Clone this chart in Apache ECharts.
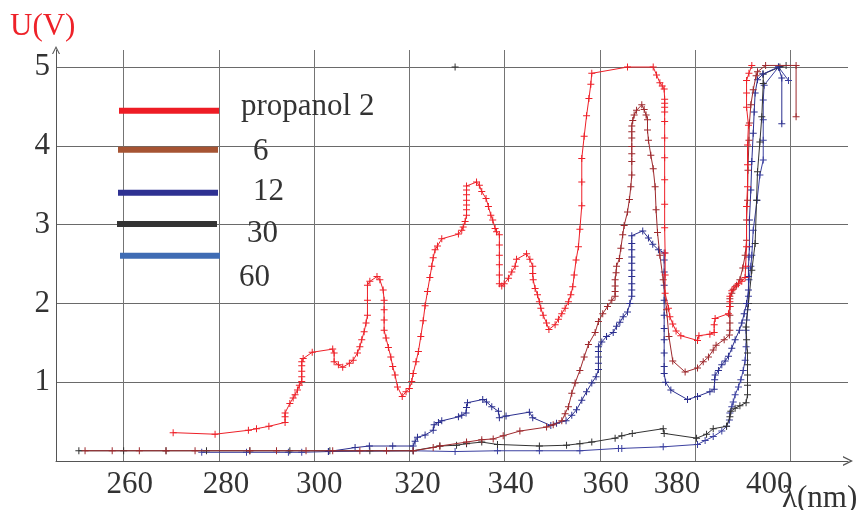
<!DOCTYPE html>
<html><head><meta charset="utf-8">
<script src="https://cdn.jsdelivr.net/npm/echarts@6/dist/echarts.min.js"></script>
<style>html,body{margin:0;padding:0;background:#fff}#c{width:866px;height:510px}</style>
</head><body><div id="c"></div>
<script>
const seriesNames = ['propanol 2', '6', '12', '30', '60'];

const propanol2 = [[270.4,0.36],[279.2,0.34],[286.2,0.39],[287.9,0.41],[290.5,0.44],[293.9,0.49],[293.9,0.56],[293.9,0.61],[294.9,0.73],[295.6,0.80],[296.0,0.84],[296.5,0.90],[296.9,0.96],[297.4,1.01],[297.4,1.07],[297.4,1.14],[297.4,1.21],[297.4,1.26],[297.7,1.30],[299.6,1.38],[303.9,1.42],[304.2,1.37],[304.2,1.26],[305.1,1.22],[306.0,1.19],[307.4,1.24],[308.2,1.28],[309.1,1.37],[309.6,1.45],[310.0,1.54],[310.5,1.64],[310.9,1.75],[311.2,1.85],[311.2,2.04],[311.2,2.23],[311.7,2.28],[313.2,2.34],[313.8,2.30],[314.5,2.17],[314.7,2.04],[314.7,1.92],[314.7,1.79],[314.7,1.66],[315.1,1.56],[315.6,1.44],[316.1,1.32],[316.5,1.20],[317.0,1.09],[317.5,0.94],[318.5,0.82],[319.3,0.88],[320.0,0.92],[320.5,1.01],[320.8,1.11],[321.4,1.26],[321.9,1.39],[322.4,1.58],[322.9,1.78],[323.3,1.97],[323.8,2.15],[324.3,2.33],[324.7,2.47],[325.0,2.58],[325.4,2.68],[325.9,2.73],[326.8,2.82],[330.3,2.88],[331.0,2.93],[331.3,2.97],[331.7,3.04],[332.0,3.12],[332.0,3.19],[332.0,3.25],[332.0,3.31],[332.0,3.38],[332.0,3.44],[332.0,3.49],[334.1,3.54],[334.7,3.50],[335.2,3.42],[336.1,3.33],[336.6,3.23],[337.1,3.12],[337.5,3.06],[338.0,2.95],[338.3,2.91],[338.9,2.87],[338.9,2.74],[338.9,2.61],[338.9,2.49],[338.9,2.36],[338.9,2.25],[339.4,2.22],[339.9,2.25],[340.8,2.32],[341.5,2.40],[342.2,2.47],[342.5,2.56],[344.6,2.63],[345.3,2.56],[345.9,2.47],[345.9,2.38],[346.0,2.30],[346.4,2.19],[346.9,2.11],[347.3,2.02],[347.6,1.94],[348.1,1.85],[348.8,1.75],[349.3,1.67],[350.6,1.73],[351.3,1.80],[352.0,1.87],[352.7,1.94],[353.4,2.02],[353.9,2.11],[354.3,2.21],[354.6,2.36],[355.0,2.55],[355.5,2.72],[355.8,2.94],[356.2,3.24],[356.2,3.54],[356.2,3.84],[356.7,4.12],[357.2,4.38],[357.7,4.60],[358.1,4.78],[358.3,4.92],[365.8,5.00],[371.2,5.00],[371.9,4.90],[372.6,4.80],[373.1,4.76],[373.5,4.72],[373.6,4.59],[373.6,4.54],[373.6,4.49],[373.6,4.43],[373.6,4.31],[373.6,4.10],[373.6,3.85],[373.6,3.57],[373.6,3.26],[373.6,2.96],[373.7,2.64],[373.7,2.36],[373.7,2.13],[374.4,1.94],[374.7,1.83],[375.3,1.74],[376.0,1.65],[377.0,1.59],[380.5,1.53],[380.8,1.59],[383.1,1.61],[384.0,1.63],[384.0,1.73],[384.2,1.81],[387.0,1.87],[387.3,1.96],[387.3,2.02],[387.3,2.09],[387.7,2.16],[388.4,2.21],[389.1,2.25],[389.8,2.28],[390.5,2.33],[390.6,2.47],[390.8,2.72],[390.8,3.23],[391.0,3.48],[391.0,3.76],[391.0,4.01],[391.2,4.26],[390.8,4.49],[390.8,4.67],[390.8,4.83],[391.3,4.92],[391.9,5.02]];

const sample6 = [[251.9,0.13],[257.6,0.13],[263.3,0.13],[268.9,0.13],[275.0,0.13],[286.5,0.13],[292.1,0.13],[298.3,0.13],[303.9,0.13],[309.6,0.13],[315.2,0.13],[320.8,0.13],[325.0,0.17],[326.4,0.19],[332.0,0.24],[335.2,0.27],[337.6,0.28],[339.7,0.32],[343.2,0.38],[348.8,0.43],[350.2,0.46],[352.0,0.51],[352.7,0.60],[353.4,0.69],[354.1,0.86],[354.8,0.99],[355.8,1.15],[356.7,1.32],[357.6,1.48],[359.0,1.63],[359.7,1.77],[360.6,1.87],[361.6,1.96],[362.5,2.04],[363.2,2.09],[363.2,2.15],[363.2,2.22],[363.2,2.30],[363.4,2.39],[363.5,2.47],[364.1,2.57],[364.4,2.70],[364.8,2.87],[365.1,2.99],[365.8,3.16],[366.2,3.32],[366.5,3.48],[366.7,3.63],[366.7,3.80],[366.7,3.90],[366.7,3.99],[366.7,4.10],[366.7,4.18],[366.7,4.25],[366.9,4.32],[367.2,4.39],[367.7,4.45],[368.8,4.52],[369.3,4.46],[369.7,4.39],[370.0,4.33],[370.0,4.20],[370.2,4.07],[370.7,3.88],[371.2,3.71],[371.6,3.48],[371.8,3.19],[372.1,2.90],[372.6,2.61],[373.3,2.30],[374.0,1.92],[374.5,1.58],[375.3,1.27],[377.9,1.13],[380.5,1.18],[381.7,1.26],[382.8,1.32],[383.8,1.41],[384.4,1.47],[386.1,1.54],[387.2,1.60],[387.3,1.66],[387.3,1.75],[387.3,1.85],[387.3,1.96],[387.3,2.06],[387.7,2.13],[388.0,2.18],[388.7,2.23],[389.4,2.30],[390.0,2.45],[390.5,2.61],[390.8,2.80],[390.8,3.06],[391.0,3.31],[391.1,3.69],[391.3,4.07],[391.4,4.29],[391.7,4.52],[392.2,4.71],[392.8,4.89],[393.1,4.94],[394.8,5.02],[401.2,5.02],[401.2,4.37]];

const sample12 = [[303.0,0.12],[308.6,0.17],[311.6,0.19],[316.5,0.19],[320.8,0.19],[321.2,0.25],[321.7,0.30],[323.3,0.33],[325.0,0.39],[325.2,0.46],[326.1,0.49],[326.8,0.51],[330.3,0.56],[331.0,0.58],[331.9,0.61],[332.0,0.68],[332.2,0.74],[335.4,0.78],[336.2,0.75],[337.3,0.69],[338.7,0.63],[338.9,0.55],[340.3,0.57],[345.2,0.62],[345.9,0.55],[349.7,0.45],[350.9,0.48],[352.9,0.51],[354.1,0.58],[355.1,0.65],[356.2,0.77],[357.2,0.88],[358.3,0.99],[359.2,1.07],[359.7,1.16],[359.7,1.24],[359.7,1.32],[359.7,1.39],[359.7,1.45],[360.4,1.51],[361.4,1.58],[362.8,1.63],[363.5,1.71],[364.2,1.76],[364.9,1.83],[365.8,1.89],[366.3,2.00],[366.7,2.09],[366.7,2.17],[366.7,2.25],[366.7,2.34],[366.7,2.42],[366.7,2.51],[366.7,2.59],[366.7,2.68],[366.7,2.76],[366.7,2.86],[369.0,2.92],[370.2,2.83],[371.1,2.75],[372.3,2.68],[373.5,2.64],[373.5,2.55],[373.5,2.40],[373.5,2.23],[373.5,2.04],[373.5,1.85],[373.5,1.68],[373.5,1.54],[373.5,1.37],[373.5,1.20],[373.5,1.11],[373.8,1.00],[374.9,0.90],[378.4,0.78],[380.5,0.82],[383.1,0.88],[384.0,0.91],[384.1,1.03],[384.2,1.09],[384.9,1.15],[385.6,1.22],[386.3,1.27],[387.0,1.33],[387.7,1.43],[388.4,1.54],[389.3,1.66],[389.8,1.75],[390.3,1.87],[390.8,2.00],[391.2,2.17],[391.2,2.34],[391.2,2.45],[391.3,2.59],[391.4,2.72],[391.4,3.06],[391.7,3.44],[391.9,3.80],[392.2,4.16],[392.4,4.43],[392.6,4.67],[393.1,4.84],[394.2,4.91],[397.5,5.00],[398.2,4.86],[398.2,4.28]];

const sample30 = [[250.6,0.13],[260.0,0.13],[268.9,0.13],[277.4,0.13],[286.5,0.13],[294.9,0.13],[303.3,0.13],[311.7,0.13],[320.8,0.13],[326.4,0.19],[329.9,0.20],[332.0,0.22],[335.2,0.24],[338.5,0.21],[347.3,0.19],[353.0,0.20],[355.8,0.22],[358.3,0.24],[363.2,0.29],[364.6,0.32],[366.8,0.35],[373.3,0.41],[373.5,0.35],[380.3,0.29],[382.4,0.34],[383.8,0.41],[386.6,0.44],[387.3,0.56],[387.5,0.63],[388.4,0.67],[389.4,0.70],[390.7,0.74],[391.0,0.84],[391.0,0.96],[391.0,1.09],[391.0,1.22],[391.0,1.37],[390.8,1.54],[390.7,1.70],[391.2,2.00],[391.9,2.42],[392.6,2.76],[392.9,3.31],[393.1,3.67],[393.6,4.05],[394.0,4.37],[394.3,4.79],[394.3,4.91],[397.8,5.00],[399.1,5.02]];
const sample30Stray = [[329.6,5.00]];

const sample60 = [[276.4,0.11],[285.8,0.11],[294.6,0.11],[297.4,0.11],[303.0,0.12],[320.8,0.13],[329.6,0.12],[338.5,0.13],[347.3,0.13],[355.8,0.13],[363.9,0.16],[364.6,0.16],[373.3,0.18],[380.5,0.21],[382.1,0.26],[383.8,0.31],[385.6,0.38],[386.6,0.44],[387.2,0.52],[387.3,0.61],[387.7,0.69],[388.0,0.75],[388.4,0.84],[389.1,0.94],[389.6,1.03],[390.1,1.15],[390.5,1.28],[390.7,1.45],[390.7,1.66],[390.8,1.79],[391.0,1.92],[391.2,2.09],[391.3,2.30],[391.7,2.47],[391.9,2.61],[392.2,2.93],[393.0,3.31],[393.6,3.63],[394.3,3.82],[394.3,4.07],[394.3,4.33],[394.3,4.58],[394.5,4.77],[397.5,5.00],[399.6,4.83]];

const xTickLabels = [260, 280, 300, 320, 340, 360, 380, 400];
const yTickLabels = [1, 2, 3, 4, 5];

// ---- styling ----
const FONT = 'Liberation Serif';
const FS = 31;
const TXT = '#333333';
const lineColors = ['#ee2028', '#9e2a2e', '#2b2f8f', '#333333', '#3b40a0'];
const legendColors = ['#ee1c25', '#a65433', '#2e3192', '#333333', '#3f6cb4'];
const plus = 'path://M3,0H4V3H7V4H4V7H3V4H0V3H3Z';
const chevron = 'path://M0,12L6,0L12,12L10.3,12L6,3.4L1.7,12Z';
const xLabelShift = [6, 7, 5, 8, 6, 6, -18, -21];

const rich = {};
xLabelShift.forEach((s, i) => {
  rich['s' + i] = {
    fontFamily: FONT, fontSize: FS, color: TXT,
    padding: s >= 0 ? [0, 0, 0, 2 * s] : [0, -2 * s, 0, 0]
  };
});

// legend placement: left edge of the swatch, swatch centre y, text shift (d) and text gap (pl)
const legendLayout = [
  { left: 119, yc: 110.7, d: -4, pl: 17 },
  { left: 118, yc: 149.7, d: 2, pl: 30 },
  { left: 118, yc: 192.7, d: -1, pl: 30 },
  { left: 117, yc: 224.0, d: 10, pl: 25 },
  { left: 120, yc: 255.7, d: 22, pl: 14 }
];

const legends = seriesNames.map((name, i) => {
  const L = legendLayout[i];
  const ad = Math.abs(L.d);
  const pad = L.d >= 0 ? [2 * ad, 0, 0, L.pl] : [0, 0, 2 * ad, L.pl];
  const r = {};
  r['t' + i] = { fontFamily: FONT, fontSize: FS, color: TXT, padding: pad, lineHeight: FS };
  return {
    data: [{ name: name, itemStyle: { color: legendColors[i] } }],
    left: L.left, top: L.yc - FS / 2 - ad,
    padding: 0, icon: 'rect', itemWidth: 100, itemHeight: 6,
    selectedMode: false,
    formatter: function (n) { return '{t' + i + '|' + n + '}'; },
    textStyle: { fontFamily: FONT, fontSize: FS, color: TXT, rich: r }
  };
});

const allData = [propanol2, sample6, sample12, sample30, sample60];
const series = allData.map((d, i) => ({
  name: seriesNames[i], type: 'line', data: d,
  symbol: plus, symbolSize: 7, showSymbol: true,
  lineStyle: { color: lineColors[i], width: 1 },
  itemStyle: { color: lineColors[i] },
  z: 10 - i
}));
series.push({
  name: '30', type: 'line', data: sample30Stray,
  symbol: plus, symbolSize: 7, showSymbol: true,
  lineStyle: { width: 0 }, itemStyle: { color: lineColors[3] }
});

const chart = echarts.init(document.getElementById('c'), null, { renderer: 'canvas' });
chart.setOption({
  animation: false,
  backgroundColor: '#ffffff',
  title: [
    { text: 'U(V)', left: 10, top: 11, padding: 0,
      textStyle: { color: '#ee2229', fontFamily: FONT, fontSize: FS, fontWeight: 'normal' } },
    { text: 'λ(nm)', left: 782, top: 483, padding: 0,
      textStyle: { color: TXT, fontFamily: FONT, fontSize: FS, fontWeight: 'normal' } }
  ],
  legend: legends,
  grid: { left: 56, right: 18, top: 50, bottom: 49, containLabel: false, outerBoundsMode: 'none' },
  xAxis: {
    type: 'value', min: 245.8, max: 412.1, splitNumber: 8, minInterval: 20, maxInterval: 20,
    axisLine: { show: true, lineStyle: { color: '#555', width: 1 },
      symbol: ['none', chevron], symbolSize: [10, 12] },
    axisTick: { show: false },
    axisLabel: {
      margin: 8, fontFamily: FONT, fontSize: FS, color: TXT, rich: rich,
      showMinLabel: true, showMaxLabel: true,
      formatter: function (v) {
        const i = xTickLabels.indexOf(Math.round(v));
        if (i < 0 || Math.abs(v - Math.round(v)) > 1e-6) return '';
        return '{s' + i + '|' + xTickLabels[i] + '}';
      }
    },
    splitLine: { show: true, showMinLine: false, showMaxLine: false, lineStyle: { color: '#747474', width: 1 } }
  },
  yAxis: {
    type: 'value', min: 0, max: 5.216, interval: 1,
    axisLine: { show: true, lineStyle: { color: '#555', width: 1 },
      symbol: ['none', chevron], symbolSize: [8, 12] },
    axisTick: { show: false },
    axisLabel: {
      margin: 6, fontFamily: FONT, fontSize: FS, color: TXT,
      formatter: function (v) { return yTickLabels.indexOf(v) >= 0 ? String(v) : ''; }
    },
    splitLine: { show: true, showMinLine: false, showMaxLine: false, lineStyle: { color: '#6a6a6a', width: 1 } }
  },
  series: series
});
</script>
</body></html>
